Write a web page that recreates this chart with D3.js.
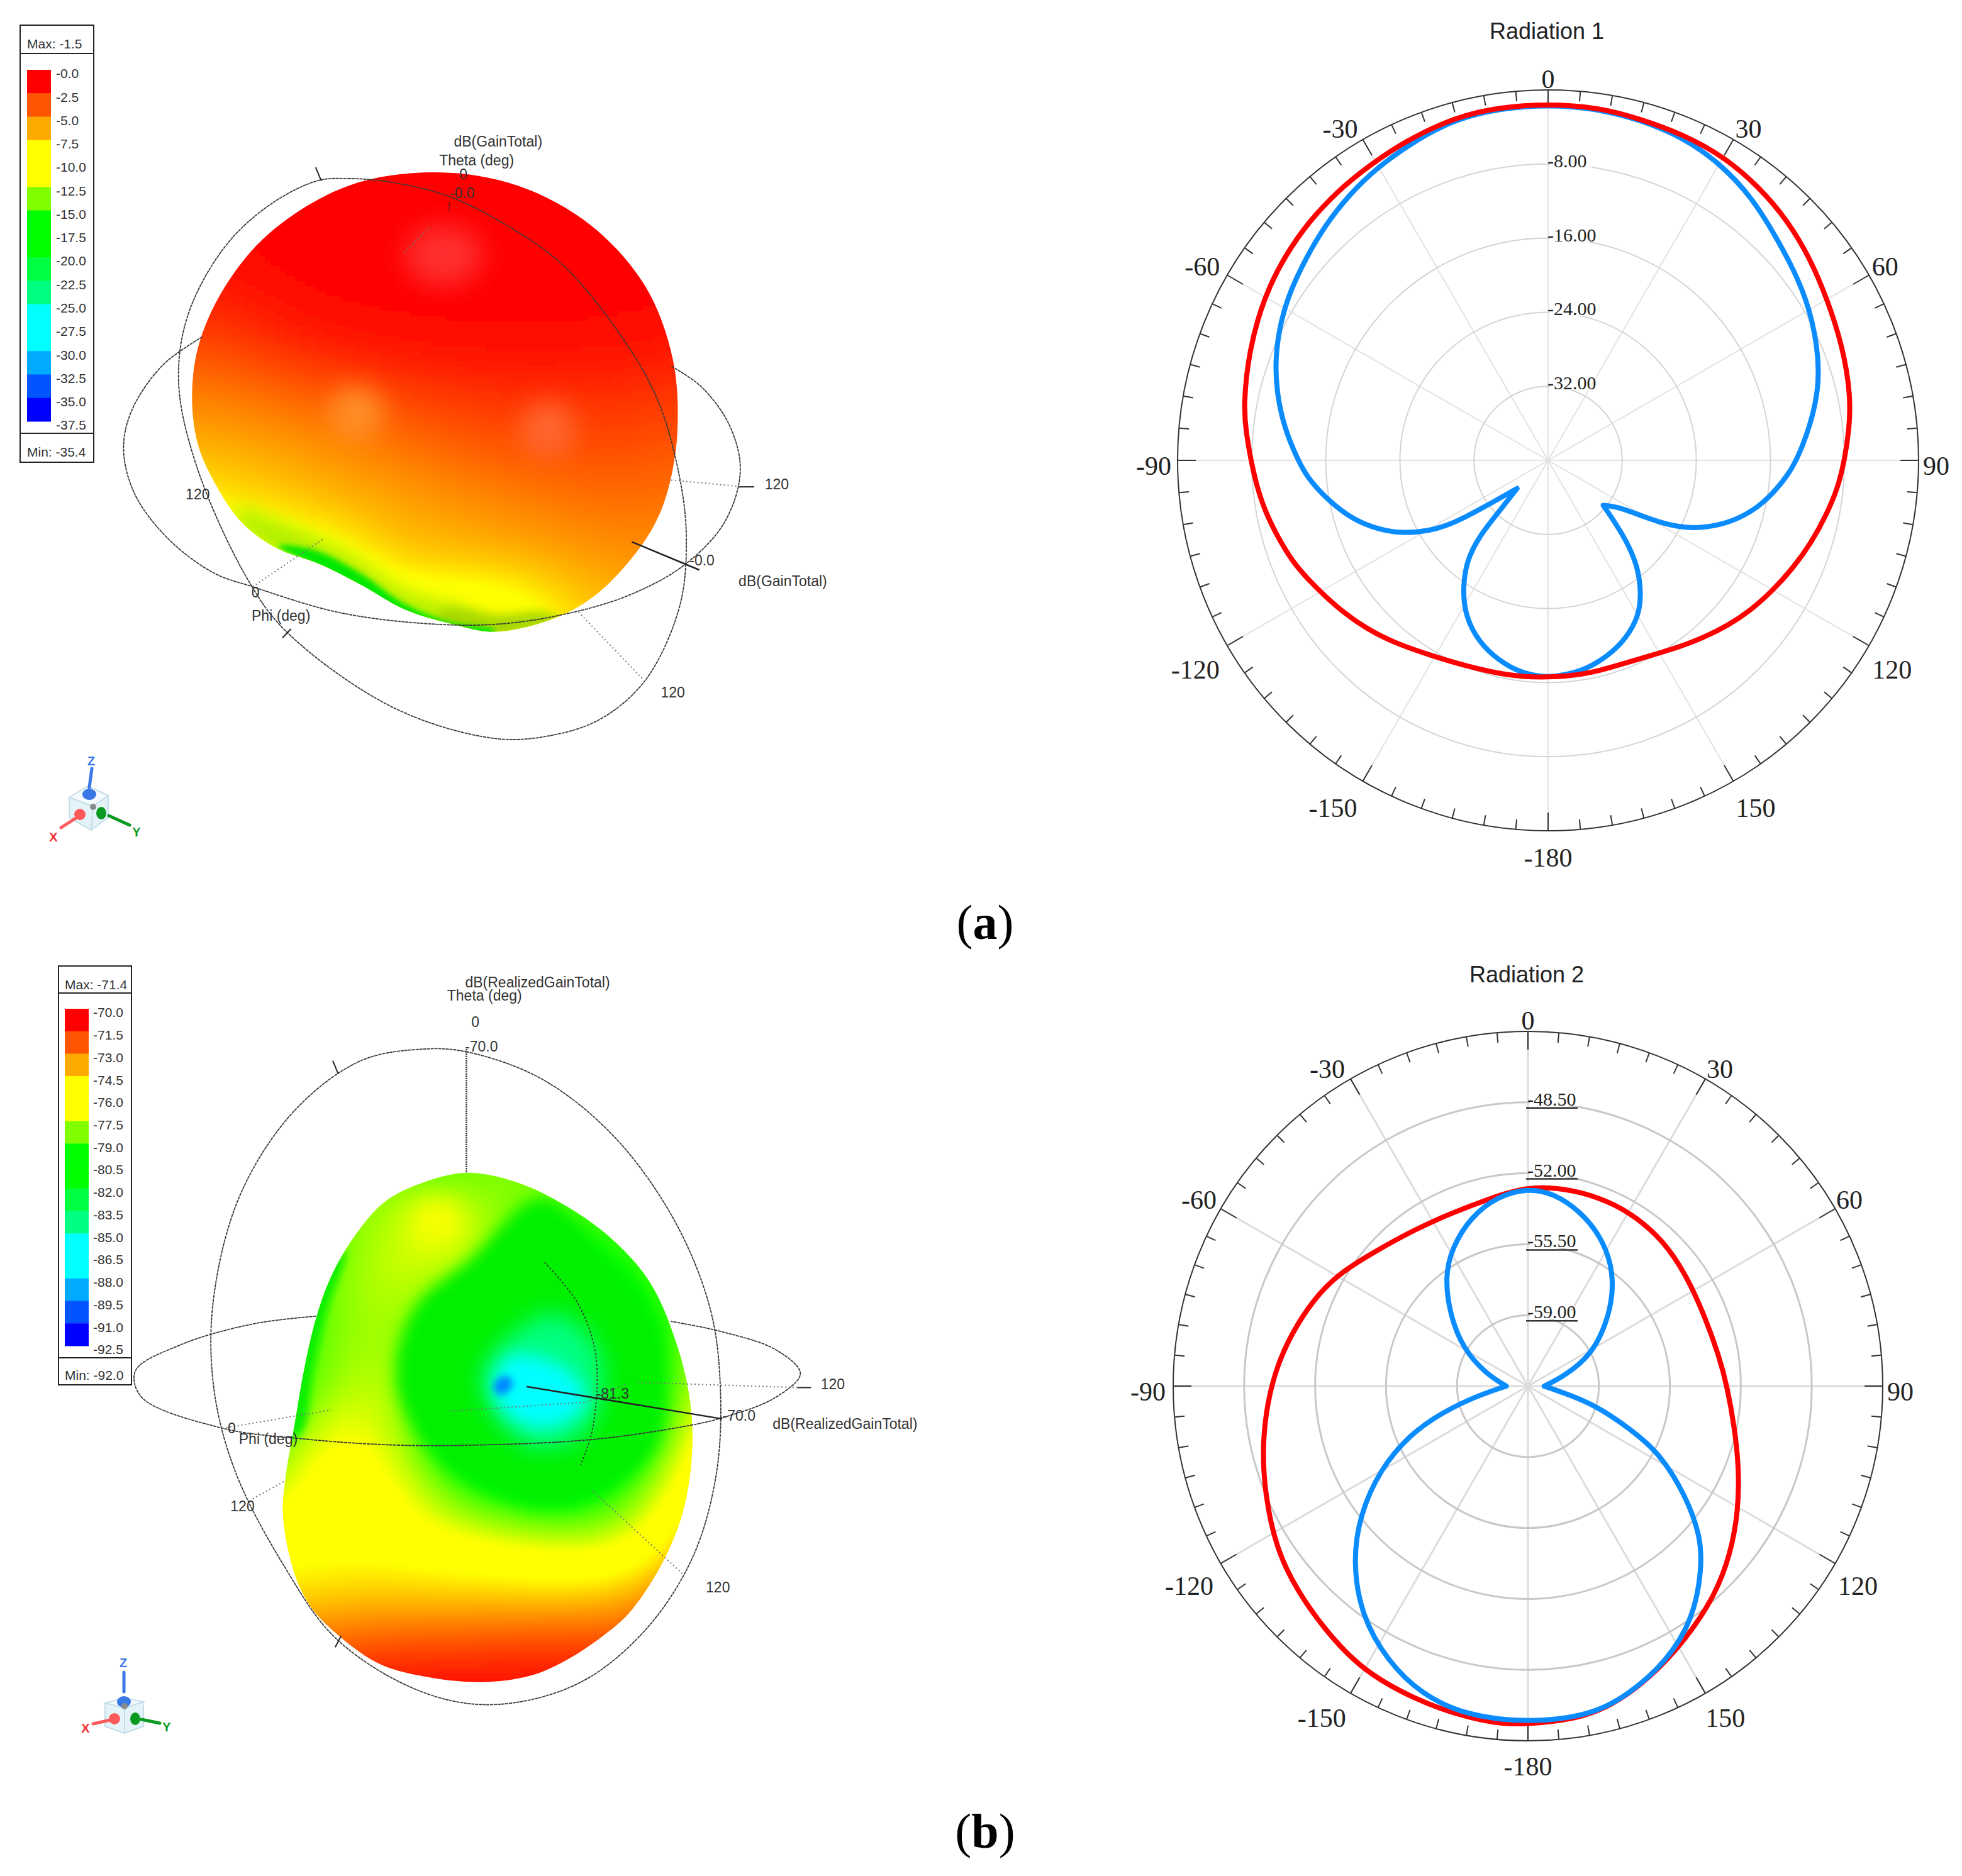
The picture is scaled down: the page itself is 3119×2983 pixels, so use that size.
<!DOCTYPE html>
<html>
<head>
<meta charset="utf-8">
<script src="https://cdnjs.cloudflare.com/ajax/libs/d3/7.8.5/d3.min.js"></script>
<style>
body { margin: 0; background: #fff; }
svg { display: block; }
</style>
</head>
<body>
<script>
// radiation 1 (dB), angle in degrees from the top, clockwise
const angles1Red = [0, 8, 15, 22.5, 30, 37.5, 45, 52.5, 60, 69, 78, 84, 90, 95.3, 101, 107.5, 113.8, 120.1, 126.7, 132.6, 138.3, 144.6, 151.5, 158.7, 168, 175, 180, -174.2, -167, -158.1, -149.2, -139.7, -132.9, -126.8, -121, -116.4, -111.6, -106.3, -100.4, -94.8, -90, -85, -80, -70, -60, -52, -45, -38, -32, -24, -15, -8]
const gain1Red = [-1.5, -1.5, -1.8, -1.9, -2.1, -2.7, -3.4, -4.3, -5.2, -5.9, -6.6, -7.3, -8, -8.56, -9.36, -10.24, -11.12, -11.96, -12.8, -13.64, -14.48, -15.32, -16.12, -16.56, -16.56, -16.6, -16.6, -16.48, -16.36, -16.08, -15.44, -14.2, -13.28, -12.48, -11.76, -11.08, -10.32, -9.72, -8.96, -8.4, -7.92, -7.3, -6.6, -5.6, -4.6, -4, -3.5, -3.1, -2.8, -2.2, -1.6, -1.5]
const angles1Blue = [0, 7.5, 15, 22.5, 30, 38, 46, 54, 62, 72, 80, 90, 94.9, 101.2, 106.5, 110.9, 115.5, 118.7, 121, 124.3, 129.2, 133, 136.5, 140.2, 144.9, 149.6, 156.1, 162.8, 169.6, 175.2, 180, -177, -171.6, -164.1, -157.2, -150.9, -146, -141.1, -137.8, -136.5, -132.2, -126.1, -123.8, -120.8, -116.6, -112.5, -107, -100.4, -94.3, -90, -83, -76, -69.7, -64, -58, -50, -43.3, -37, -30.6, -22, -14.8, -7.5]
const gain1Blue = [-1.6, -1.65, -1.88, -2.2, -2.92, -4.1, -5.6, -6.6, -7.6, -9.08, -10.8, -13.08, -14.44, -16.24, -18.24, -20.28, -22.8, -25.6, -28.68, -31.2, -32.32, -30.04, -27.32, -24.84, -22.52, -20.6, -19.04, -17.92, -17.08, -16.76, -16.6, -16.68, -16.96, -18.04, -19.48, -21.4, -23.6, -25.96, -28.88, -31.96, -35.48, -31.36, -27.8, -25.08, -22.4, -20.36, -18, -15.88, -14, -13, -11.3, -9.8, -8.6, -7.7, -6.8, -5.9, -5, -4.2, -3.4, -2.5, -1.8, -1.65]
const cusps1Blue = [129.2, -132.2]
const rings1 = [-8, -16, -24, -32]

// radiation 2 (dB)
const angles2Red = [0, 12.7, 24, 32.7, 42.7, 54.5, 68.1, 81.4, 90, 101.4, 111.6, 120.8, 129.4, 138, 148.2, 157.8, 165.6, 172.4, 180, -176, -168.3, -160, -149.6, -139.8, -131.5, -122.9, -112.4, -103.2, -93.7, -84.2, -74.9, -65.7, -58.3, -49.4, -36, -23.8, -11.5]
const gain2Red = [-52.63, -52.54, -52.54, -52.6, -52.7, -52.95, -53.12, -52.95, -52.68, -52.1, -51.3, -50.43, -49.55, -48.66, -47.75, -46.84, -46.16, -45.89, -45.84, -45.75, -45.89, -46.07, -46.26, -46.87, -47.29, -47.71, -48.47, -49.04, -49.6, -50.13, -50.7, -51.23, -51.74, -52.4, -52.96, -53.17, -53.05]
const angles2Blue = [0, 7.6, 16.6, 25.9, 34.8, 42.8, 51.5, 63.8, 74.4, 90, 100.9, 105.7, 112.5, 116.9, 124.6, 131, 136.5, 144.7, 153.3, 161.9, 169.1, 180, -169.5, -161, -153, -144, -135, -127.5, -119.4, -112.1, -106.7, -100.5, -90, -73.6, -60, -47.7, -37.4, -29, -18.8, -9.2]
const gain2Blue = [-52.73, -52.91, -53.49, -54.28, -55.24, -56.32, -57.55, -59.02, -60.61, -61.7, -60.65, -59.07, -57.11, -55.24, -53.07, -51.21, -50.04, -48.4, -47.29, -46.49, -45.95, -45.88, -45.96, -46.4, -47.26, -48.5, -50.29, -52.04, -54.12, -56.24, -58.2, -60.02, -61.43, -60.33, -58.81, -57.3, -55.76, -54.73, -53.7, -53.02]
const cusps2Blue = [90, -90]
const rings2 = [-48.5, -52, -55.5, -59]

const angleTicks = d3.range(-150, 181, 30)

// colour legends
const legendColors = ["#ff0000", "#ff5500", "#ffaa00", "#ffff00", "#ffff00", "#80ff00", "#00ff00", "#00ff00", "#00ff40", "#00ff80", "#00ffff", "#00ffff", "#00aaff", "#0055ff", "#0000ff"]
const legend1Labels = ["-0.0", "-2.5", "-5.0", "-7.5", "-10.0", "-12.5", "-15.0", "-17.5", "-20.0", "-22.5", "-25.0", "-27.5", "-30.0", "-32.5", "-35.0", "-37.5"]
const legend2Labels = ["-70.0", "-71.5", "-73.0", "-74.5", "-76.0", "-77.5", "-79.0", "-80.5", "-82.0", "-83.5", "-85.0", "-86.5", "-88.0", "-89.5", "-91.0", "-92.5"]

// 3D surface 1: gain read on a coarse grid of the picture
const surf1Cols = [300, 400, 500, 600, 700, 800, 900, 1000, 1100, 1200]
const surf1Rows = [300, 400, 500, 600, 700, 800, 900, 1000, 1100, 1200]
const surf1Gain = [
    [0, 0, 0, 0, 0, 0, 0, 0, 0, 0],
    [-.2, -.2, 0, 0, 0, 0, 0, 0, 0, 0],
    [-.8, -.5, -.1, 0, 0, 0, 0, 0, 0, 0],
    [-2, -1.8, -1, -.5, -.3, -.2, -.2, -.2, -.3, -.5],
    [-3.8, -3.6, -3.1, -2.6, -2, -1.6, -1.4, -1.4, -1.4, -1.6],
    [-5.5, -5.2, -4.8, -4.2, -3.6, -3, -2.6, -2.4, -2.3, -2.6],
    [-8, -7, -6.2, -5.5, -5, -4.5, -4, -3.6, -3.3, -3.5],
    [-12, -11, -10.5, -8.5, -6, -5.8, -5.5, -5, -4.5, -4.5],
    [-14, -14, -15, -15, -11, -10.5, -10, -7, -5.5, -5],
    [-14, -14, -15, -15, -11, -10.5, -10, -7, -5.5, -5]
]
const surf1Outline = [[775, 307], [923, 331], [1053, 402], [1149, 510], [1198, 640], [1206, 770], [1190, 870], [1165, 935], [1120, 1000], [1060, 1060], [990, 1100], [880, 1125], [800, 1110], [720, 1085], [640, 1040], [570, 1005], [490, 975], [430, 930], [385, 865], [352, 790], [342, 700], [355, 610], [401, 510], [480, 415], [620, 331]]
const surf1Patches = [
    { color: "#b0f000", blur: 14, pts: [[420, 905], [500, 930], [620, 985], [720, 1050], [850, 1095], [880, 1130], [780, 1120], [640, 1050], [490, 985], [430, 940]] },
    { color: "#a8d800", blur: 8, pts: [[790, 1085], [880, 1095], [970, 1090], [1000, 1105], [880, 1135], [780, 1120]] },
    { color: "#00e800", blur: 4, pts: [[495, 972], [560, 980], [640, 1020], [720, 1075], [800, 1108], [880, 1122], [880, 1130], [800, 1120], [720, 1095], [640, 1050], [570, 1012]] }
]
const surf1Spots = [
    { x: 790, y: 455, rx: 70, ry: 55, color: "#ff3c3c", opacity: .75 },
    { x: 635, y: 735, rx: 50, ry: 48, color: "#ff9a30", opacity: .8 },
    { x: 975, y: 765, rx: 50, ry: 50, color: "#ff6c38", opacity: .85 }
]

// 3D surface 2
const surf2Cols = [450, 550, 650, 750, 850, 950, 1050, 1150]
const surf2Rows = [450, 550, 650, 750, 850, 950, 1050, 1150, 1250, 1350, 1450]
const surf2Gain = [
    [-77.5, -77.5, -77.5, -77.5, -77.5, -77.5, -77.5, -77.5],
    [-78, -78, -76.5, -75.5, -77.8, -79, -78, -77.5],
    [-79, -77.5, -76.5, -77.3, -79.5, -80, -79, -77.5],
    [-79, -77.5, -76.8, -79.5, -81, -81, -80, -77.5],
    [-79.5, -77, -76.5, -80.5, -81, -81, -80, -77],
    [-78, -75.5, -76.5, -80, -81, -81, -80, -76],
    [-76.5, -75, -75.5, -78, -79.5, -80, -78, -74.5],
    [-75, -75, -75, -75.5, -76, -76.5, -76, -73],
    [-74, -73.5, -73.5, -73.5, -73.5, -73.5, -73, -71],
    [-71.5, -71.5, -71, -71, -70.8, -70.8, -71, -70],
    [-70, -70, -70, -70, -70, -70, -70, -70]
]
const surf2Outline = [[775, 440], [700, 460], [640, 495], [590, 560], [550, 640], [525, 720], [505, 820], [490, 920], [475, 1020], [470, 1090], [480, 1170], [500, 1240], [530, 1292], [624, 1378], [700, 1405], [800, 1417], [880, 1405], [936, 1378], [1000, 1330], [1045, 1285], [1100, 1190], [1135, 1090], [1150, 980], [1147, 880], [1125, 770], [1080, 650], [1010, 560], [920, 490], [850, 455]]
const surf2Patches = [
    { color: "#10f000", blur: 6, pts: [[575, 590], [545, 700], [520, 820], [500, 940], [465, 950], [500, 700]] },
    { color: "#00f000", blur: 12, pts: [[900, 490], [1000, 590], [1090, 720], [1105, 860], [1090, 960], [1020, 1040], [920, 1080], [810, 1050], [720, 980], [660, 840], [690, 700], [780, 610]] },
    { color: "#00ff80", blur: 18, pts: [[920, 710], [990, 770], [1000, 870], [960, 950], [880, 965], [820, 900], [800, 830], [840, 760]] },
    { color: "#00ffff", blur: 14, pts: [[850, 790], [940, 815], [975, 880], [910, 930], [840, 900], [820, 840]] },
    { color: "#0088ff", blur: 6, pts: [[835, 830], [852, 838], [846, 858], [830, 866], [820, 850]] }
]
const surf2Spots = [
    { x: 725, y: 530, rx: 42, ry: 38, color: "#ffff00", opacity: 1 }
]

// wireframe circles, traced in the crop coordinates of each panel
const wire1Theta = [[565, 322], [620, 318], [700, 325], [800, 350], [900, 400], [1000, 470], [1100, 590], [1170, 710], [1210, 850], [1222, 960], [1210, 1080], [1150, 1210], [1070, 1280], [980, 1310], [880, 1315], [700, 1260], [510, 1125], [440, 1030], [350, 830], [318, 680], [335, 560], [400, 440], [480, 365]]
const wire1Phi = [[360, 600], [290, 650], [235, 730], [220, 800], [240, 880], [300, 960], [380, 1020], [450, 1045], [600, 1090], [750, 1110], [880, 1112], [1000, 1095], [1120, 1060], [1220, 1005], [1290, 930], [1318, 840], [1300, 760], [1250, 690], [1195, 652]]
const wire2Theta = [[700, 203], [775, 208], [900, 260], [1020, 370], [1120, 530], [1180, 700], [1197, 850], [1190, 1020], [1150, 1180], [1070, 1320], [960, 1420], [820, 1460], [700, 1435], [560, 1335], [470, 1190], [390, 1010], [355, 850], [355, 680], [400, 480], [490, 320], [600, 225]]
const wire2Phi = [[525, 715], [420, 730], [300, 770], [225, 820], [235, 870], [370, 930], [500, 950], [650, 962], [800, 962], [980, 952], [1120, 930], [1200, 910], [1290, 870], [1330, 825], [1290, 780], [1200, 745], [1115, 725]]
const wire2Arc = [[905, 612], [960, 690], [990, 790], [985, 930], [965, 1000]]

const width = 3119, height = 2983
const svg = d3.select("body").append("svg").attr("width", width).attr("height", height)
svg.append("rect").attr("width", width).attr("height", height).attr("fill", "#fff")
const defs = svg.append("defs")

function blurFilter(id, sd) {
    defs.append("filter").attr("id", id)
        .attr("x", "-60%").attr("y", "-60%").attr("width", "220%").attr("height", "220%")
        .append("feGaussianBlur").attr("stdDeviation", sd)
}
blurFilter("blurSurf", 5)
blurFilter("blurSpot", 20)

const sans = "'Liberation Sans', Arial, sans-serif"
const serif = "'Liberation Serif', 'Times New Roman', serif"

function drawLegend(o) {
    let g = svg.append("g").attr("font-family", sans).attr("font-size", 21).attr("fill", "#333")
    g.append("rect").attr("x", o.x0).attr("y", o.top).attr("width", o.x1 - o.x0).attr("height", o.bottom - o.top)
        .attr("fill", "#fff").attr("stroke", "#222").attr("stroke-width", 2)
    for (let y of [o.line1, o.line2]) {
        g.append("line").attr("x1", o.x0).attr("x2", o.x1).attr("y1", y).attr("y2", y)
            .attr("stroke", "#222").attr("stroke-width", 2)
    }
    let yScale = d3.scaleBand().domain(d3.range(legendColors.length)).range([o.swTop, o.swBottom])
    g.selectAll("rect.sw").data(legendColors).join("rect").attr("class", "sw")
        .attr("x", o.swX0).attr("width", o.swX1 - o.swX0)
        .attr("y", (d, i) => yScale(i)).attr("height", yScale.bandwidth() + .5)
        .attr("fill", d => d)
    g.selectAll("text.lab").data(o.labels).join("text").attr("class", "lab")
        .attr("x", o.labelX)
        .attr("y", (d, i) => o.swTop + 6 + i * yScale.bandwidth())
        .attr("dy", "0.35em")
        .text(d => d)
    g.append("text").attr("x", o.swX0).attr("y", o.maxY).attr("dy", "0.35em").text(o.maxText)
    g.append("text").attr("x", o.swX0).attr("y", o.minY).attr("dy", "0.35em").text(o.minText)
}

drawLegend({
    x0: 32, x1: 149, top: 40, line1: 85, line2: 689, bottom: 735, swX0: 43, swX1: 81, swTop: 111, swBottom: 670,
    labelX: 89, maxY: 70, minY: 719, maxText: "Max: -1.5", minText: "Min: -35.4", labels: legend1Labels
})
drawLegend({
    x0: 93, x1: 209, top: 1536, line1: 1579, line2: 2159, bottom: 2202, swX0: 103, swX1: 141, swTop: 1604, swBottom: 2140,
    labelX: 148, maxY: 1566, minY: 2187, maxText: "Max: -71.4", minText: "Min: -92.0", labels: legend2Labels
})

function drawSurface(o) {
    let outline = d3.line().x(d => o.sx(d[0])).y(d => o.sy(d[1])).curve(d3.curveCatmullRomClosed.alpha(.5))
    defs.append("clipPath").attr("id", o.id).append("path").attr("d", outline(o.outline))

    let color = d3.scaleLinear()
        .domain(legendColors.map((c, i) => o.gainTop - i * o.gainStep))
        .range(legendColors).clamp(true)

    // finer cells from the coarse grid
    let rowFns = o.gain.map(r => d3.interpolateBasis(r))
    let colT = d3.scaleLinear().domain(d3.extent(o.cols)).range([0, 1]).clamp(true)
    let rowT = d3.scaleLinear().domain(d3.extent(o.rows)).range([0, 1]).clamp(true)
    let xs = d3.extent(o.outline, d => d[0]), ys = d3.extent(o.outline, d => d[1])
    let step = 8
    let cells = []
    for (let py = o.sy(ys[0]) - 20; py < o.sy(ys[1]) + 20; py += step) {
        for (let px = o.sx(xs[0]) - 20; px < o.sx(xs[1]) + 20; px += step) {
            let u = colT(o.sx.invert(px)), v = rowT(o.sy.invert(py))
            let g = d3.interpolateBasis(rowFns.map(f => f(u)))(v)
            cells.push({ px, py, g })
        }
    }
    let clip = svg.append("g").attr("clip-path", "url(#" + o.id + ")")
    clip.append("g").attr("filter", "url(#blurSurf)")
        .selectAll("rect").data(cells).join("rect")
        .attr("x", d => d.px).attr("y", d => d.py)
        .attr("width", step + 1).attr("height", step + 1)
        .attr("fill", d => color(d.g))

    let patchLine = d3.line().x(d => o.sx(d[0])).y(d => o.sy(d[1])).curve(d3.curveCatmullRomClosed.alpha(.5))
    o.patches.forEach((p, i) => {
        let fid = o.id + "p" + i
        blurFilter(fid, p.blur)
        clip.append("path").attr("d", patchLine(p.pts)).attr("fill", p.color).attr("filter", "url(#" + fid + ")")
    })
    clip.selectAll("ellipse").data(o.spots).join("ellipse")
        .attr("cx", d => o.sx(d.x)).attr("cy", d => o.sy(d.y))
        .attr("rx", d => o.sx(d.x + d.rx) - o.sx(d.x)).attr("ry", d => o.sy(d.y + d.ry) - o.sy(d.y))
        .attr("fill", d => d.color).attr("opacity", d => d.opacity).attr("filter", "url(#blurSpot)")
}

function wire(sx, sy, pts, closed, dash) {
    let line = d3.line().x(d => sx(d[0])).y(d => sy(d[1]))
        .curve(closed ? d3.curveCatmullRomClosed.alpha(.5) : d3.curveCatmullRom.alpha(.5))
    svg.append("path").attr("d", line(pts)).attr("fill", "none")
        .attr("stroke", "#3a3a3a").attr("stroke-width", 1.8)
        .attr("stroke-dasharray", dash || "5 1")
}

function seg(sx, sy, p, q, dash, w) {
    svg.append("line")
        .attr("x1", sx(p[0])).attr("y1", sy(p[1])).attr("x2", sx(q[0])).attr("y2", sy(q[1]))
        .attr("stroke", dash == "2 4" ? "#777" : "#222").attr("stroke-width", w || 2)
        .attr("stroke-dasharray", dash || null)
}

function label3d(sx, sy, x, y, s, anchor) {
    svg.append("text").attr("x", sx(x)).attr("y", sy(y)).attr("dy", "0.35em")
        .attr("text-anchor", anchor || "middle")
        .attr("font-family", sans).attr("font-size", 23).attr("fill", "#333")
        .text(s)
}

// panel a, 3D
const ax = d3.scaleLinear([0, 1568], [0, 1400])
const ay = d3.scaleLinear([0, 1568], [0, 1400])
drawSurface({
    id: "surfA", sx: ax, sy: ay, outline: surf1Outline, cols: surf1Cols, rows: surf1Rows, gain: surf1Gain,
    gainTop: 0, gainStep: 2.5, patches: surf1Patches, spots: surf1Spots
})
wire(ax, ay, wire1Theta, true)
wire(ax, ay, wire1Phi, false)
seg(ax, ay, [562, 298], [572, 322])
seg(ax, ay, [503, 1136], [518, 1120])
seg(ax, ay, [1195, 855], [1315, 866], "2 4")
seg(ax, ay, [1315, 867], [1343, 867])
seg(ax, ay, [450, 1045], [575, 960], "2 4")
seg(ax, ay, [1030, 1090], [1145, 1210], "2 4")
seg(ax, ay, [1125, 965], [1245, 1015], null, 2.5)
seg(ax, ay, [720, 450], [765, 405], "2 4")
seg(ax, ay, [800, 360], [800, 375], "2 2")
label3d(ax, ay, 808, 252, "dB(GainTotal)", "start")
label3d(ax, ay, 782, 285, "Theta (deg)", "start")
label3d(ax, ay, 825, 310, "0")
label3d(ax, ay, 823, 344, "-0.0")
label3d(ax, ay, 352, 880, "120")
label3d(ax, ay, 1383, 862, "120")
label3d(ax, ay, 1250, 998, "-0.0")
label3d(ax, ay, 1315, 1035, "dB(GainTotal)", "start")
label3d(ax, ay, 455, 1055, "0")
label3d(ax, ay, 448, 1096, "Phi (deg)", "start")
label3d(ax, ay, 1198, 1233, "120")

// panel b, 3D
const bx = d3.scaleLinear([0, 1568], [0, 1500])
const by = d3.scaleLinear([0, 1568], [1500, 2800])
wire(bx, by, wire2Theta, true)
seg(bx, by, [775, 203], [775, 440], "2 1.5", 2.5)
drawSurface({
    id: "surfB", sx: bx, sy: by, outline: surf2Outline, cols: surf2Cols, rows: surf2Rows, gain: surf2Gain,
    gainTop: -70, gainStep: 1.5, patches: surf2Patches, spots: surf2Spots
})
wire(bx, by, wire2Phi, false)
wire(bx, by, wire2Arc, false, "3 3")
seg(bx, by, [553, 225], [562, 250])
seg(bx, by, [557, 1350], [567, 1328])
seg(bx, by, [1060, 842], [1325, 852], "2 4")
seg(bx, by, [1325, 852], [1348, 852])
seg(bx, by, [750, 897], [975, 880], "2 4")
seg(bx, by, [975, 880], [1040, 845], "2 4")
seg(bx, by, [370, 930], [550, 895], "2 4")
seg(bx, by, [420, 1065], [475, 1030], "2 4")
seg(bx, by, [985, 1050], [1135, 1210], "2 4")
seg(bx, by, [875, 850], [1200, 912], null, 2.5)
label3d(bx, by, 773, 75, "dB(RealizedGainTotal)", "start")
label3d(bx, by, 743, 100, "Theta (deg)", "start")
label3d(bx, by, 790, 151, "0")
label3d(bx, by, 800, 198, "-70.0")
label3d(bx, by, 1384, 845, "120")
label3d(bx, by, 1018, 863, "-81.3")
label3d(bx, by, 1228, 906, "-70.0")
label3d(bx, by, 1284, 921, "dB(RealizedGainTotal)", "start")
label3d(bx, by, 385, 930, "0")
label3d(bx, by, 397, 950, "Phi (deg)", "start")
label3d(bx, by, 403, 1080, "120")
label3d(bx, by, 1193, 1235, "120")

function drawTriad(t) {
    let g = svg.append("g")
    let faces = [
        [t.top, t.right, t.center, t.left],
        [t.left, t.center, t.bottom, t.lb],
        [t.center, t.right, t.rb, t.bottom]
    ]
    g.selectAll("polygon").data(faces).join("polygon")
        .attr("points", d => d.join(" "))
        .attr("fill", (d, i) => i == 0 ? "#f6fbfd" : "#e4f3f8")
        .attr("stroke", "#c4deea").attr("stroke-width", 2)
    let arms = [
        { stem: t.zStem, ball: t.zBall, color: "#3b78e7", rx: 11, ry: 9 },
        { stem: t.xStem, ball: t.xBall, color: "#ff5a5a", rx: 9, ry: 9 },
        { stem: t.yStem, ball: t.yBall, color: "#0a9a20", rx: 8, ry: 10 }
    ]
    g.selectAll("line").data(arms).join("line")
        .attr("x1", d => d.stem[0][0]).attr("y1", d => d.stem[0][1])
        .attr("x2", d => d.stem[1][0]).attr("y2", d => d.stem[1][1])
        .attr("stroke", d => d.color).attr("stroke-width", 5).attr("stroke-linecap", "round")
    g.selectAll("ellipse").data(arms).join("ellipse")
        .attr("cx", d => d.ball[0]).attr("cy", d => d.ball[1]).attr("rx", d => d.rx).attr("ry", d => d.ry)
        .attr("fill", d => d.color)
    g.append("circle").attr("cx", t.gray[0]).attr("cy", t.gray[1]).attr("r", 5).attr("fill", "#8a8a8a")
    let letters = [["Z", t.zLab, "#3b78e7"], ["X", t.xLab, "#f03030"], ["Y", t.yLab, "#0a9a20"]]
    g.selectAll("text").data(letters).join("text")
        .attr("x", d => d[1][0]).attr("y", d => d[1][1]).attr("dy", "0.35em")
        .attr("text-anchor", "middle").attr("font-family", sans).attr("font-weight", "bold").attr("font-size", 20)
        .attr("fill", d => d[2]).text(d => d[0])
}

drawTriad({
    top: [140, 1250], left: [110, 1268], right: [172, 1265], center: [148, 1282], bottom: [145, 1320], lb: [110, 1300], rb: [172, 1300],
    zStem: [[142, 1252], [146, 1222]], zBall: [142, 1263], zLab: [145, 1210],
    xStem: [[97, 1316], [122, 1300]], xBall: [127, 1295], xLab: [85, 1331],
    yStem: [[173, 1297], [206, 1312]], yBall: [161, 1293], yLab: [217, 1323],
    gray: [148, 1283]
})
drawTriad({
    top: [197, 2700], left: [167, 2708], right: [228, 2706], center: [198, 2716], bottom: [198, 2756], lb: [167, 2745], rb: [228, 2745],
    zStem: [[197, 2690], [197, 2659]], zBall: [197, 2706], zLab: [196, 2644],
    xStem: [[148, 2741], [175, 2735]], xBall: [182, 2733], xLab: [136, 2748],
    yStem: [[225, 2734], [254, 2740]], yBall: [215, 2733], yLab: [265, 2746],
    gray: [198, 2713]
})

// split a series at its cusps so the tips stay sharp
function seriesPath(line, lineClosed, s) {
    let pts = d3.zip(s.angles, s.gain)
    if (!s.cusps) return lineClosed(pts)
    let start = pts.findIndex(p => p[0] == s.cusps[0])
    let loop = pts.slice(start).concat(pts.slice(0, start + 1))
    let out = "", piece = []
    loop.forEach((p, i) => {
        piece.push(p)
        if (i > 0 && s.cusps.includes(p[0])) {
            out += line(piece)
            piece = [p]
        }
    })
    return out
}

// polar plots
function drawPolar(o) {
    let g = svg.append("g").attr("transform", "translate(" + o.cx + "," + o.cy + ")")
    let r = d3.scaleLinear().domain(o.domain).range([0, o.R])
    let rad = d3.scaleLinear().domain([0, 360]).range([0, 2 * Math.PI])
    let px = (a, d) => d * Math.sin(rad(a)), py = (a, d) => -d * Math.cos(rad(a))

    g.selectAll("line.spoke").data(angleTicks).join("line").attr("class", "spoke")
        .attr("x2", d => px(d, o.R)).attr("y2", d => py(d, o.R))
        .attr("stroke", o.spokeColor).attr("stroke-width", o.spokeWidth)
    g.selectAll("circle.ring").data(o.rings).join("circle").attr("class", "ring")
        .attr("r", d => r(d)).attr("fill", "none")
        .attr("stroke", o.ringColor).attr("stroke-width", o.ringWidth)
    g.append("circle").attr("r", o.R).attr("fill", "none").attr("stroke", "#333").attr("stroke-width", 2)

    let minor = d3.range(-175, 181, 5).filter(a => a % 30 != 0)
    g.selectAll("line.minor").data(minor).join("line").attr("class", "minor")
        .attr("x1", d => px(d, o.R)).attr("y1", d => py(d, o.R))
        .attr("x2", d => px(d, o.R - 16)).attr("y2", d => py(d, o.R - 16))
        .attr("stroke", "#333").attr("stroke-width", 2)
    g.selectAll("line.major").data(angleTicks).join("line").attr("class", "major")
        .attr("x1", d => px(d, o.R)).attr("y1", d => py(d, o.R))
        .attr("x2", d => px(d, o.R - 29)).attr("y2", d => py(d, o.R - 29))
        .attr("stroke", "#333").attr("stroke-width", 2)

    g.selectAll("text.ang").data(angleTicks).join("text").attr("class", "ang")
        .attr("x", (d, i) => px(d, o.R + o.gap) * (Math.abs(d) >= 120 && Math.abs(d) < 180 ? 1.05 : 1) + o.labelDx[i])
        .attr("y", (d, i) => py(d, o.R + o.gap) + o.angleShift + o.labelDy[i])
        .attr("dy", "0.35em").attr("text-anchor", "middle")
        .attr("font-family", serif).attr("font-size", 42).attr("fill", "#222")
        .text(d => d == 180 ? "-180" : d)

    // ring labels sit on a white strip, the ring stops behind them
    g.selectAll("rect.back").data(o.rings).join("rect").attr("class", "back")
        .attr("x", 3).attr("y", d => -r(d) - 6).attr("width", o.ringLabelW).attr("height", 12)
        .attr("fill", "#fff")
    g.selectAll("text.ringlab").data(o.rings).join("text").attr("class", "ringlab")
        .attr("x", -1).attr("y", d => -r(d) + 5)
        .attr("font-family", serif).attr("font-size", 30).attr("fill", "#222")
        .text(d => d.toFixed(2))
    if (o.underline) {
        g.selectAll("line.under").data(o.rings).join("line").attr("class", "under")
            .attr("x1", -3).attr("x2", o.ringLabelW + 1)
            .attr("y1", d => -r(d) + 9).attr("y2", d => -r(d) + 9)
            .attr("stroke", "#333").attr("stroke-width", 2.5)
    }

    let line = d3.lineRadial().angle(d => rad(d[0])).radius(d => r(d[1])).curve(d3.curveBasis)
    let lineClosed = d3.lineRadial().angle(d => rad(d[0])).radius(d => r(d[1])).curve(d3.curveBasisClosed)
    g.selectAll("path.series").data(o.series).join("path").attr("class", "series")
        .attr("d", d => seriesPath(line, lineClosed, d))
        .attr("fill", "none").attr("stroke", d => d.color).attr("stroke-width", 8)
        .attr("stroke-linejoin", "round").attr("stroke-linecap", "round")

    svg.append("text").attr("x", o.cx - 2).attr("y", o.titleY).attr("dy", "0.35em")
        .attr("text-anchor", "middle").attr("font-family", sans).attr("font-size", 36).attr("fill", "#222")
        .text(o.title)
}

drawPolar({
    cx: 2461, cy: 732, R: 589, domain: [-40, 0], rings: rings1, gap: 32, angleShift: 14, title: "Radiation 1", titleY: 49,
    ringColor: "#d4d4d4", ringWidth: 2, spokeColor: "#e2e2e2", spokeWidth: 2, ringLabelW: 66, underline: false,
    labelDx: [-16, 4, -6, -12, -20, 0, 8, -2, -4, -18, 4, 0], labelDy: [0, 8, -6, -12, -4, 0, -4, -12, -6, 8, 0, -4],
    series: [
        { color: "#0a8cff", angles: angles1Blue, gain: gain1Blue, cusps: cusps1Blue },
        { color: "#ff0000", angles: angles1Red, gain: gain1Red }
    ]
})
drawPolar({
    cx: 2429, cy: 2204, R: 564, domain: [-62.5, -45], rings: rings2, gap: 26, angleShift: 8, title: "Radiation 2", titleY: 1549,
    ringColor: "#c8c8c8", ringWidth: 3, spokeColor: "#dcdcdc", spokeWidth: 3, ringLabelW: 78, underline: true,
    labelDx: [-18, -2, -14, -12, -24, 0, 10, 0, 2, -12, 4, 0], labelDy: [8, 14, 0, -10, -2, 0, -2, -10, 0, 14, 8, 6],
    series: [
        { color: "#ff0000", angles: angles2Red, gain: gain2Red },
        { color: "#0a8cff", angles: angles2Blue, gain: gain2Blue, cusps: cusps2Blue }
    ]
})

// captions
function caption(y, letter) {
    let t = svg.append("text").attr("x", 1566).attr("y", y).attr("text-anchor", "middle")
        .attr("font-family", serif).attr("font-size", 78).attr("fill", "#000")
    t.append("tspan").text("(")
    t.append("tspan").attr("font-weight", "bold").text(letter)
    t.append("tspan").text(")")
}
caption(1493, "a")
caption(2938, "b")
</script>
</body>
</html>
